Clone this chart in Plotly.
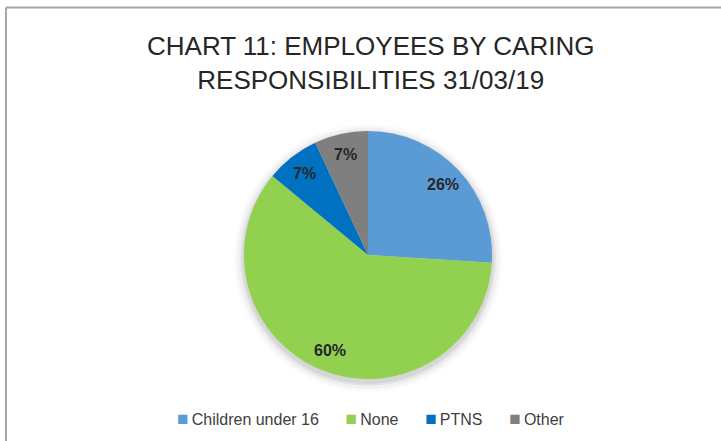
import math
import plotly.graph_objects as go

categories = ["Children under 16", "None", "PTNS", "Other"]
percentages = [26, 60, 7, 7]
colors = ["#5B9BD5", "#92D050", "#0070C0", "#7F7F7F"]
title_lines = ["CHART 11: EMPLOYEES BY CARING", "RESPONSIBILITIES 31/03/19"]

W, H = 721, 441
cx, cy, r = 368, 255, 124  # pie centre and radius in pixels
label_frac = 0.83           # data labels sit at this fraction of the radius

fig = go.Figure()

# soft shadow under the pie
for grow, op in [(10, 0.02), (7, 0.035), (4, 0.05), (2, 0.06)]:
    fig.add_shape(
        type="circle", xref="paper", yref="paper",
        x0=(cx - r - grow) / W, x1=(cx + r + grow) / W,
        y0=(H - cy - r - grow - 3) / H, y1=(H - cy + r + grow - 3) / H,
        fillcolor=f"rgba(0,0,0,{op})", line=dict(width=0), layer="below",
    )

fig.add_trace(go.Pie(
    labels=categories,
    values=percentages,
    sort=False,
    direction="clockwise",
    rotation=0,
    marker=dict(colors=colors, line=dict(width=0)),
    textinfo="none",
    hoverinfo="label+percent",
    showlegend=False,
    domain=dict(x=[(cx - r) / W, (cx + r) / W], y=[(H - cy - r) / H, (H - cy + r) / H]),
))

# value labels at each slice's mid angle (clockwise from 12 o'clock)
total = sum(percentages)
cum = 0
for v in percentages:
    mid = (cum + v / 2) / total * 2 * math.pi
    cum += v
    lx = cx + label_frac * r * math.sin(mid)
    ly = cy - label_frac * r * math.cos(mid)
    fig.add_annotation(
        text=f"{v}%", xref="paper", yref="paper",
        x=lx / W, y=(H - ly) / H, xanchor="center", yanchor="middle", showarrow=False,
        font=dict(family="Liberation Sans, Arial", size=16, color="#262626", weight="bold"),
    )

fig.add_annotation(
    text="<br>".join(title_lines), xref="paper", yref="paper",
    x=370 / W, y=(H - 63) / H, xanchor="center", yanchor="middle",
    showarrow=False, font=dict(family="Liberation Sans, Arial", size=26, color="#262626"),
    align="center",
)

# legend row: coloured square + category name
gap = "\u00a0" * 6
legend_text = gap.join(
    f"<span style='color:{c};font-size:19px'>■</span>\u2009{name}" for name, c in zip(categories, colors)
)
fig.add_annotation(
    text=legend_text, xref="paper", yref="paper",
    x=371 / W, y=(H - 418) / H, xanchor="center", yanchor="middle", showarrow=False,
    font=dict(family="Liberation Sans, Arial", size=16, color="#404040"),
)

# chart frame (top and left edges)
fig.add_shape(type="line", xref="paper", yref="paper", x0=6 / W, x1=1, y0=(H - 7.5) / H, y1=(H - 7.5) / H,
              line=dict(color="#A6A6A6", width=2))
fig.add_shape(type="line", xref="paper", yref="paper", x0=6 / W, x1=6 / W, y0=0, y1=(H - 7.5) / H,
              line=dict(color="#A6A6A6", width=2))

fig.update_layout(
    width=W, height=H,
    margin=dict(l=0, r=0, t=0, b=0),
    paper_bgcolor="white", plot_bgcolor="white",
    showlegend=False,
)

fig.write_html("out.html")
